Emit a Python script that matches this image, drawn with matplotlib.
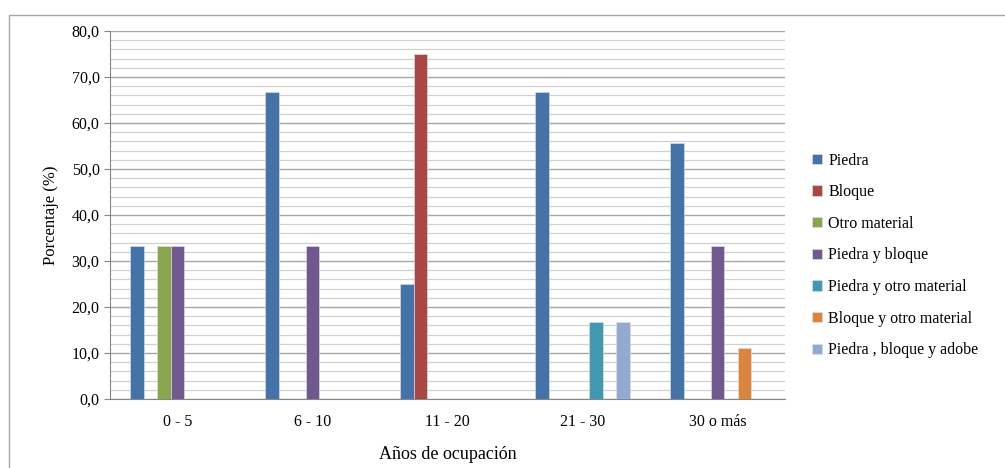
import matplotlib.pyplot as plt
import numpy as np
from matplotlib.patches import Rectangle
from matplotlib.ticker import FuncFormatter, MultipleLocator

# Data
categories = ["0 - 5", "6 - 10", "11 - 20", "21 - 30", "30 o más"]
series_names = [
    "Piedra",
    "Bloque",
    "Otro material",
    "Piedra y bloque",
    "Piedra y otro material",
    "Bloque y otro material",
    "Piedra , bloque y adobe",
]
piedra = [33.3, 66.7, 25.0, 66.7, 55.6]
bloque = [0.0, 0.0, 75.0, 0.0, 0.0]
otro_material = [33.3, 0.0, 0.0, 0.0, 0.0]
piedra_bloque = [33.3, 33.3, 0.0, 0.0, 33.3]
piedra_otro = [0.0, 0.0, 0.0, 16.7, 0.0]
bloque_otro = [0.0, 0.0, 0.0, 0.0, 11.1]
piedra_bloque_adobe = [0.0, 0.0, 0.0, 16.7, 0.0]

series_values = [piedra, bloque, otro_material, piedra_bloque,
                 piedra_otro, bloque_otro, piedra_bloque_adobe]
colors = ["#4572A7", "#AA4643", "#89A54E", "#71588F",
          "#4198AF", "#DB843D", "#93A9CF"]

plt.rcParams["font.family"] = ["Liberation Serif", "DejaVu Serif"]

fig = plt.figure(figsize=(10.05, 4.68), dpi=100)
ax = fig.add_axes([110 / 1005, 1 - 399 / 468, 675 / 1005, 368 / 468])

# outer chart border
fig.patches.append(Rectangle((9 / 1005, -0.1), 1.2, 1 - 15 / 468 + 0.1,
                             transform=fig.transFigure, fill=False,
                             edgecolor="#A6A6A6", linewidth=1.0))

x = np.arange(len(categories))
width = 0.1
n = len(series_values)
for i, (vals, name, c) in enumerate(zip(series_values, series_names, colors)):
    offset = (i - (n - 1) / 2) * width
    ax.bar(x + offset, vals, width=width, color=c, label=name,
           edgecolor="#DCE6F2", linewidth=0.4, zorder=3)

ax.set_xlim(-0.5, len(categories) - 0.5)
ax.set_ylim(0, 80)
ax.yaxis.set_major_locator(MultipleLocator(10))
ax.yaxis.set_minor_locator(MultipleLocator(2))
ax.yaxis.set_major_formatter(FuncFormatter(lambda v, _: f"{v:.1f}".replace(".", ",")))
ax.grid(axis="y", which="major", color="#A6A6A6", linewidth=1.0, zorder=0)
ax.grid(axis="y", which="minor", color="#D0D0D0", linewidth=0.9, zorder=0)
ax.set_axisbelow(True)

ax.set_xticks(x)
ax.set_xticklabels(categories)
ax.tick_params(axis="x", length=0, pad=11, labelsize=11.5)
ax.tick_params(axis="y", which="major", length=4, color="#868686", labelsize=11.5)
ax.tick_params(axis="y", which="minor", length=0)

for side in ["top", "right"]:
    ax.spines[side].set_visible(False)
ax.spines["left"].set_color("#868686")
ax.spines["bottom"].set_color("#868686")

ax.set_ylabel("Porcentaje (%)", fontsize=12, labelpad=9)
ax.set_xlabel("Años de ocupación", fontsize=13, labelpad=11)

ax.legend(loc="center left", bbox_to_anchor=(1.031, 0.39), frameon=False,
          fontsize=11.5, handlelength=0.6, handleheight=0.6,
          handletextpad=0.4, labelspacing=0.98, borderaxespad=0)

fig.savefig("out.png", dpi=100, facecolor="white")
